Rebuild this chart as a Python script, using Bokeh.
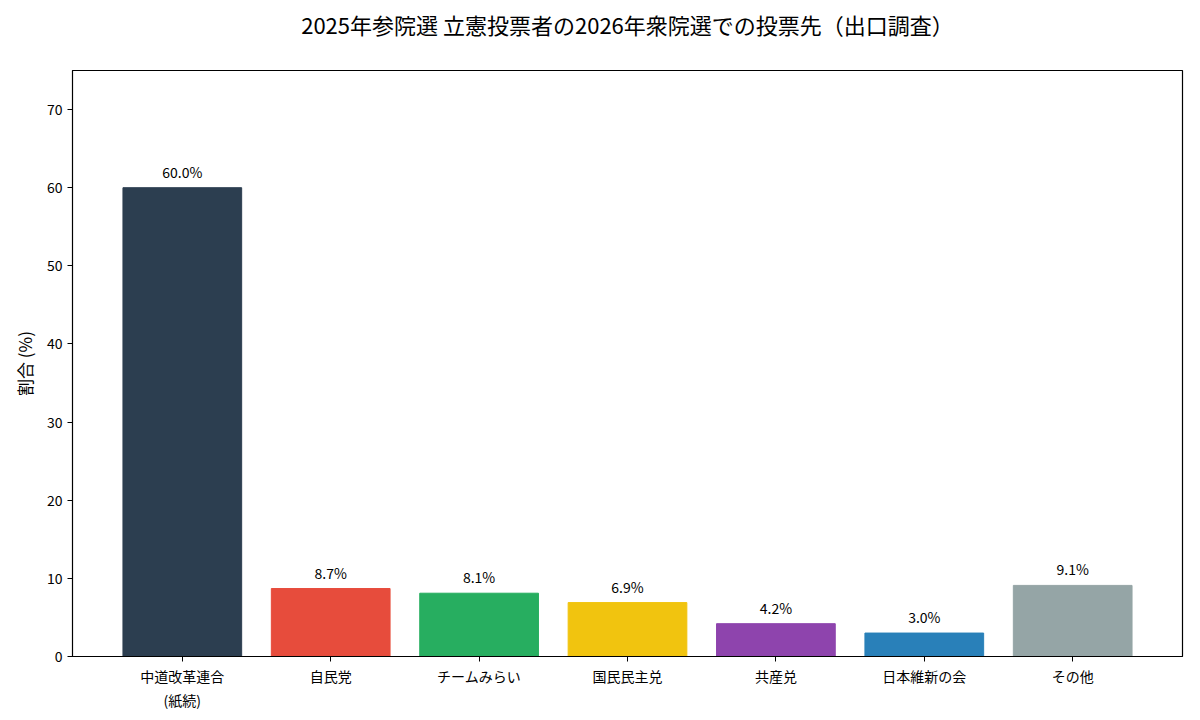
from bokeh.plotting import figure
from bokeh.models import ColumnDataSource, FixedTicker, Range1d, Title
from bokeh.core.properties import value
from bokeh.embed import file_html
from bokeh.resources import INLINE

categories = ["中道改革連合\n(紙続)", "自民党", "チームみらい", "国民民主兑", "共産兑", "日本維新の会", "その他"]
shares = [60.0, 8.7, 8.1, 6.9, 4.2, 3.0, 9.1]
colors = ["#2c3e50", "#e74c3c", "#27ae60", "#f1c40f", "#8e44ad", "#2980b9", "#95a5a6"]
y_ticks = [0, 10, 20, 30, 40, 50, 60, 70]
title_text = "2025年参院選 立憲投票者の2026年衆院選での投票先（出口調査）"
y_label = "割合 (%)"

FONT = "Noto Sans CJK JP"

xs = list(range(len(categories)))
src = ColumnDataSource(dict(x=xs, top=shares, color=colors,
                            label=[f"{v:.1f}%" for v in shares]))

p = figure(width=1184, height=712, output_backend="svg", toolbar_location=None,
           title=None,
           x_range=Range1d(-0.74, len(categories) - 1 + 0.74),
           y_range=Range1d(0, 75),
           min_border_left=72, min_border_right=2,
           min_border_top=70, min_border_bottom=49)

p.vbar(x="x", top="top", bottom=0, width=0.8, color="color", source=src)
p.text(x="x", y="top", text="label", source=src, y_offset=-6,
       text_align="center", text_baseline="bottom",
       text_font=value(FONT), text_font_size="14px", text_color="black")

spacer = Title(text=" ", text_font_size="8px", standoff=20)
p.add_layout(spacer, "above")
main_title = Title(text=title_text, align="center", text_font=FONT,
                   text_font_size="22px", text_font_style="normal",
                   text_color="black", standoff=0)
p.add_layout(main_title, "above")

p.xgrid.visible = False
p.ygrid.visible = False
p.outline_line_color = "black"
p.outline_line_width = 1.2

p.xaxis.ticker = FixedTicker(ticks=xs)
p.xaxis.major_label_overrides = {i: c for i, c in enumerate(categories)}
p.xaxis.major_label_standoff = 4
p.yaxis.ticker = FixedTicker(ticks=y_ticks)
p.yaxis.axis_label = y_label
p.yaxis.axis_label_standoff = 7

for ax in (p.xaxis, p.yaxis):
    ax.axis_line_color = "black"
    ax.major_tick_line_color = "black"
    ax.major_tick_in = 0
    ax.major_tick_out = 5
    ax.minor_tick_line_color = None
    ax.major_label_text_font = FONT
    ax.major_label_text_font_size = "14px"
    ax.major_label_text_color = "black"
    ax.axis_label_text_font = FONT
    ax.axis_label_text_font_size = "17px"
    ax.axis_label_text_font_style = "normal"
    ax.axis_label_text_color = "black"

open("out.html", "w").write(file_html(p, INLINE))
